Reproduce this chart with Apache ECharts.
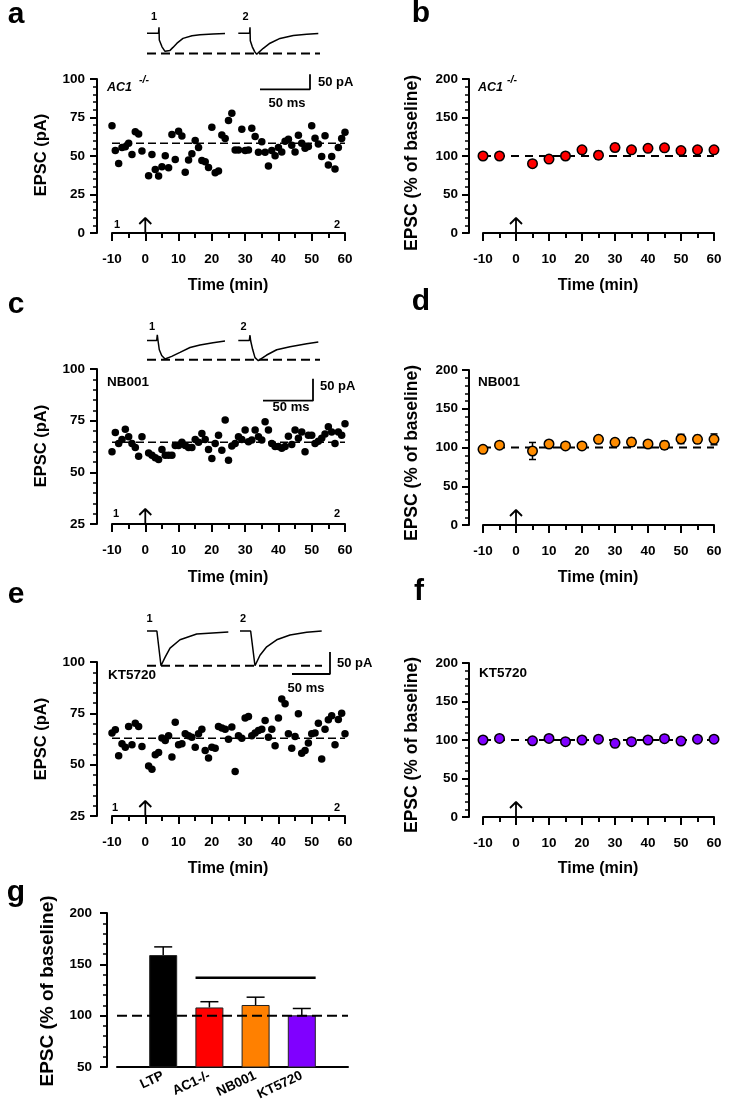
<!DOCTYPE html>
<html><head><meta charset="utf-8">
<script src="https://cdn.jsdelivr.net/npm/echarts@6/dist/echarts.min.js"></script>
<style>html,body{margin:0;padding:0;background:#fff}#c{width:733px;height:1112px}</style>
</head><body><div id="c"></div>
<script>
// ---------------- DATA ----------------
const minutes = [-10,-9,-8,-7,-6,-5,-4,-3,-2,-1,1,2,3,4,5,6,7,8,9,10,11,12,13,14,15,16,17,18,19,20,21,22,23,24,25,26,27,28,29,30,31,32,33,34,35,36,37,38,39,40,41,42,43,44,45,46,47,48,49,50,51,52,53,54,55,56,57,58,59,60];
const epscA = [69.7,53.5,45.2,55.6,56,58.2,51,65.8,64.3,53.2, 37.2,51,41.3,37,43,50.2,42.4,64,47.8,66, 63,39.4,47.4,51.5,60,55.6,47,46.3,42.6,68.6, 39.2,40.3,63.6,61.3,73,77.7,53.9,53.9,67.3,53.5, 53.9,68,62.6,52.4,59.3,52.4,43.5,53.5,50.2,55.6, 52.6,59.5,60.8,56.9,52.6,63.4,58.2,55,56.2,69.7, 61.5,57.8,49.6,63.2,44.2,49.6,41.6,55.6,61.3,65.4];
const epscC = [59.9,69.3,64,65.9,70.8,67.2,64,62,57.8,67.2, 59.4,58.3,57.1,56.2,61,58.3,58.3,58.3,63,63, 64.6,63,62,62,65.9,64.6,68.8,65.9,61,56.7, 64,68,60.7,75.3,55.8,62.7,64,67.2,65.9,70.5, 64.8,65.6,70.5,67.2,65.6,74.5,70.5,64,62.5,62.5, 61.7,62.5,67.5,63.5,70.5,66.5,69.5,60,68,68, 64,65,66.5,68.5,72,69.5,64,69.5,68,73.5];
const epscE = [65.4,67,54.3,60.2,58.5,68.6,59.7,70.2,68.6,58.9, 49.4,47.8,54.8,55.9,63,61.8,64.1,53.7,70.6,59.7, 60.2,65,64.1,63.4,58.5,65,67.3,56.9,53.2,58.5, 58,68.6,67.8,67.3,62.4,68.3,46.7,64.1,62.9,72.7, 73.5,64.1,65.4,66.7,67.3,71.5,63.4,67.3,59.2,72.7, 82,79.7,65,58,63.7,74.8,55.6,56.9,60.5,65, 65.4,70.2,52.7,67.3,71.9,73.8,59.7,72,75.1,65];
const baselineMean = [58.2, 64.6, 62.9];           // a, c, e
const stimTime = 0;

const normTime = [-10,-5,5,10,15,20,25,30,35,40,45,50,55,60];
const normB = [100,100,90,96,100,108,101,111,108,110,110.6,107,108,108];
const errB  = [2,2,4,3,3,4,5,5,3,4,4,3,3,3];
const normD = [97.6,103,95.5,104.5,102,102,110.5,106.7,107,104.5,103,111,110.5,110.5];
const errD  = [2,3,11,4,3,4,4,4,5,4,5,6,5,7];
const normF = [100,102,99,102,97.8,100,101,95.7,97.8,100,101.7,98.7,101,101];
const errF  = [2,2,3,3,3,3,3,4,4,3,3,3,2,2];
const normBaseline = 100;

const gCats  = ['LTP','AC1-/-','NB001','KT5720'];
const gMeans = [159,108,110.4,100.3];
const gErr   = [8,5.6,7.6,6.7];
const gSigLevel = 137;

// sample traces: [ms, pA]
const traceA1 = [[0,0],[11.5,0],[12,20],[12.3,-22],[15,-45],[18,-60],[20,-63],[23,-57],[26,-47],[30,-33],[36,-17],[45,-8],[53,-5],[66,-2],[78,-1]];
const traceA2 = [[0,0],[11.3,0],[11.7,20],[12,-25],[14,-45],[16.5,-62],[18.4,-70],[21,-62],[25,-50],[31.7,-33],[41.7,-17],[55,-7],[68.4,-3],[80,-1]];
const traceC1 = [[0,0],[9.7,0],[10.3,13],[11,0],[12.3,-21],[14.7,-34],[18,-42],[24.7,-36],[33,-27],[43,-16],[53,-10],[66,-5],[78,-1.4]];
const traceC2 = [[0,0],[11,0],[11.7,12],[12.3,0],[14.3,-20],[16.7,-39],[20,-46],[28.4,-33],[38.4,-21],[51.7,-14],[68.4,-7.5],[80,-3.4]];
const traceE1 = [[0,0],[13,0],[14,3],[15.5,0],[18.4,-79],[23.7,-60],[30.3,-39],[43.4,-20],[65.4,-7],[107,-2]];
const traceE2 = [[0,0],[11,0],[12.5,3],[14,0],[19.7,-79],[26.3,-55],[35.1,-36],[48.3,-20],[65.8,-9],[87.7,-3],[107.5,0]];
const tracePeakLevel = [-67, -44, -79];
const scaleBarMs = 50, scaleBarPa = 50;

// ---------------- LAYOUT ----------------
const FF = "'Liberation Sans', Arial, Helvetica, sans-serif";
const G = [
  {left:112, top:79,  width:233, height:154}, // a
  {left:483, top:79,  width:231, height:154}, // b
  {left:112, top:369, width:233, height:155}, // c
  {left:483, top:370, width:231, height:155}, // d
  {left:112, top:662, width:233, height:154}, // e
  {left:483, top:663, width:231, height:154}, // f
  {left:117, top:913, width:231, height:154}  // g
];
const insets = [
  {x0:147, y0:33.3,  pxMs:1,    pxPa:0.3,  gapPx:91.3, t1:traceA1, t2:traceA2, dashEndPx:320, corner:[310,89.3]},
  {x0:147, y0:340.5, pxMs:1,    pxPa:0.44, gapPx:91.3, t1:traceC1, t2:traceC2, dashEndPx:320, corner:[313,400.7]},
  {x0:147, y0:631,   pxMs:0.76, pxPa:0.44, gapPx:93,   t1:traceE1, t2:traceE2, dashEndPx:322, corner:[330,674]}
];

const grids = G.map(g => Object.assign({containLabel:false}, g));
const xAxes = [], yAxes = [], series = [];
const AL = {color:'#000', width:2};
const labelStyle = {color:'#000', fontSize:13.5, fontWeight:'bold', fontFamily:FF};

function timeX(gi){ return {type:'value', gridIndex:gi, min:-10, max:60, interval:10,
  axisLine:{show:true, onZero:false, lineStyle:AL},
  axisTick:{show:true, length:8, lineStyle:{color:'#000', width:2}},
  minorTick:{show:true, splitNumber:2, length:5, lineStyle:{color:'#000', width:2}},
  splitLine:{show:false}, minorSplitLine:{show:false},
  axisLabel:Object.assign({margin:19}, labelStyle)}; }
function valY(gi, min, max, interval, offset, margin){ return {type:'value', gridIndex:gi, min, max, interval, offset,
  axisLine:{show:true, onZero:false, lineStyle:AL},
  axisTick:{show:true, length:7, lineStyle:{color:'#000', width:2}},
  minorTick:{show:true, splitNumber:5, length:4, lineStyle:{color:'#000', width:1.5}},
  splitLine:{show:false}, minorSplitLine:{show:false},
  axisLabel:Object.assign({margin}, labelStyle)}; }

const rawSets = [[0, epscA, 0], [2, epscC, 25], [4, epscE, 25]];
const normSets = [[1, normB, errB, '#ff0000'], [3, normD, errD, '#ff8c00'], [5, normF, errF, '#8000ff']];

for (let gi = 0; gi < 6; gi++) {
  xAxes.push(timeX(gi));
  if (gi % 2 === 0) yAxes.push(valY(gi, gi === 0 ? 0 : 25, 100, 25, 15, 12));
  else yAxes.push(valY(gi, 0, 200, 50, 14, 11));
}
xAxes.push({type:'value', gridIndex:6, min:0, max:5, interval:1,
  axisLine:{show:true, onZero:false, lineStyle:AL}, axisTick:{show:false}, splitLine:{show:false},
  axisLabel:Object.assign({margin:8, rotate:25, formatter: v => gCats[v-1] || ''}, labelStyle)});
yAxes.push(valY(6, 50, 200, 50, 10, 15));

function arrowData(gi, yBase, ySpan){
  const ux = 70 / G[gi].width, uy = ySpan / G[gi].height;
  const top = yBase + 15*uy, wing = yBase + 9*uy;
  return [[stimTime,yBase],[stimTime,top],[stimTime-6*ux,wing],[stimTime,top],[stimTime+6*ux,wing]];
}
function errRender(cap, both){
  return function(params, api){
    const x = api.value(0), y = api.value(1), e = api.value(2);
    const top = api.coord([x, y + e]);
    const bot = api.coord([x, both ? y - e : y]);
    const st = {stroke:'#000', lineWidth:1.5};
    const ch = [
      {type:'line', shape:{x1:top[0], y1:top[1], x2:bot[0], y2:bot[1]}, style:st},
      {type:'line', shape:{x1:top[0]-cap, y1:top[1], x2:top[0]+cap, y2:top[1]}, style:st}
    ];
    if (both) ch.push({type:'line', shape:{x1:bot[0]-cap, y1:bot[1], x2:bot[0]+cap, y2:bot[1]}, style:st});
    return {type:'group', children:ch};
  };
}

rawSets.forEach(([gi, vals, ymin], k) => {
  series.push({type:'line', xAxisIndex:gi, yAxisIndex:gi, data:[[-10, baselineMean[k]],[60, baselineMean[k]]],
    symbol:'none', lineStyle:{color:'#000', width:1.5, type:[8,4]}, z:1, silent:true});
  series.push({type:'scatter', xAxisIndex:gi, yAxisIndex:gi, data:minutes.map((m,i)=>[m, vals[i]]),
    symbolSize:7.5, itemStyle:{color:'#000', opacity:1}, z:3, silent:true});
  series.push({type:'line', xAxisIndex:gi, yAxisIndex:gi, data:arrowData(gi, ymin, 100 - ymin),
    symbol:'none', lineStyle:{color:'#000', width:1.8}, z:4, silent:true, clip:false});
});
normSets.forEach(([gi, vals, errs, col]) => {
  series.push({type:'line', xAxisIndex:gi, yAxisIndex:gi, data:[[-10, normBaseline],[60, normBaseline]],
    symbol:'none', lineStyle:{color:'#000', width:2, type:[8,6]}, z:1, silent:true});
  series.push({type:'custom', xAxisIndex:gi, yAxisIndex:gi, data:normTime.map((t,i)=>[t, vals[i], errs[i]]),
    renderItem:errRender(3.5, true), encode:{x:0, y:1}, z:2, silent:true});
  series.push({type:'scatter', xAxisIndex:gi, yAxisIndex:gi, data:normTime.map((t,i)=>[t, vals[i]]),
    symbolSize:9.5, itemStyle:{color:col, borderColor:'#000', borderWidth:1.5, opacity:1}, z:3, silent:true});
  series.push({type:'line', xAxisIndex:gi, yAxisIndex:gi, data:arrowData(gi, 0, 200),
    symbol:'none', lineStyle:{color:'#000', width:1.8}, z:4, silent:true, clip:false});
});

const gColors = ['#000000','#ff0000','#ff8000','#8000ff'];
series.push({type:'bar', xAxisIndex:6, yAxisIndex:6, barWidth:28, z:2, silent:true,
  data:gMeans.map((v,i)=>({value:[i+1, v], itemStyle:{color:gColors[i], borderColor:'#222', borderWidth:1}}))});
series.push({type:'custom', xAxisIndex:6, yAxisIndex:6, data:gMeans.map((v,i)=>[i+1, v, gErr[i]]),
  renderItem:errRender(9, false), encode:{x:0, y:1}, z:3, silent:true});
series.push({type:'line', xAxisIndex:6, yAxisIndex:6, data:[[0, normBaseline],[5, normBaseline]],
  symbol:'none', lineStyle:{color:'#000', width:2, type:[10,5]}, z:4, silent:true});
series.push({type:'line', xAxisIndex:6, yAxisIndex:6, data:[[2-0.3, gSigLevel],[4+0.3, gSigLevel]],
  symbol:'none', lineStyle:{color:'#000', width:2.5}, z:4, silent:true});

insets.forEach((ins, k) => {
  const gi = grids.length;
  const W = 240, H = 100;
  grids.push({left:ins.x0, top:ins.y0 - 30, width:W, height:H});
  const yMax = 30 / ins.pxPa;
  xAxes.push({type:'value', gridIndex:gi, min:0, max:W/ins.pxMs, show:false});
  yAxes.push({type:'value', gridIndex:gi, min:yMax - H/ins.pxPa, max:yMax, show:false});
  const gapMs = ins.gapPx / ins.pxMs;
  const base = {type:'line', xAxisIndex:gi, yAxisIndex:gi, symbol:'none', silent:true, clip:false, z:5};
  series.push(Object.assign({}, base, {data:ins.t1, lineStyle:{color:'#000', width:1.5}}));
  series.push(Object.assign({}, base, {data:ins.t2.map(p=>[p[0]+gapMs, p[1]]), lineStyle:{color:'#000', width:1.5}}));
  series.push(Object.assign({}, base, {data:[[0, tracePeakLevel[k]],[(ins.dashEndPx-ins.x0)/ins.pxMs, tracePeakLevel[k]]],
    lineStyle:{color:'#000', width:2, type:[9,5]}}));
  const cMs = (ins.corner[0]-ins.x0)/ins.pxMs, cPa = -(ins.corner[1]-ins.y0)/ins.pxPa;
  series.push(Object.assign({}, base, {data:[[cMs-scaleBarMs, cPa],[cMs, cPa],[cMs, cPa+scaleBarPa]],
    lineStyle:{color:'#000', width:1.8}}));
});

function T(text, x, y, size, o){
  o = o || {};
  const al = o.align || 'center';
  return {type:'text', x, y, rotation:o.rot || 0, silent:true, z:100,
    style:{text, fill:'#000', font:(o.italic?'italic ':'')+'bold '+size+'px '+FF,
      align:al, textAlign:al, verticalAlign:'middle', textVerticalAlign:'middle'}};
}
const R = Math.PI/2;
const graphic = [
  T('a', 16, 15, 30), T('b', 421, 14, 30), T('c', 16, 305, 30), T('d', 421, 302, 30),
  T('e', 16, 595, 30), T('f', 419, 592, 30), T('g', 16, 893, 30),
  T('EPSC (pA)', 41, 155, 16.5, {rot:R}), T('EPSC (pA)', 41, 446, 16.5, {rot:R}), T('EPSC (pA)', 41, 739, 16.5, {rot:R}),
  T('EPSC (% of baseline)', 412, 163, 17.5, {rot:R}), T('EPSC (% of baseline)', 412, 453, 17.5, {rot:R}),
  T('EPSC (% of baseline)', 412, 745, 17.5, {rot:R}), T('EPSC (% of baseline)', 48, 991, 19, {rot:R}),
  T('Time (min)', 228, 286, 16), T('Time (min)', 598, 286, 16),
  T('Time (min)', 228, 578, 16), T('Time (min)', 598, 578, 16),
  T('Time (min)', 228, 869, 16), T('Time (min)', 598, 869, 16),
  T('AC1', 107, 88, 12.5, {italic:true, align:'left'}), T('-/-', 139, 80, 10.5, {italic:true, align:'left'}),
  T('AC1', 478, 88, 12.5, {italic:true, align:'left'}), T('-/-', 507, 80, 10.5, {italic:true, align:'left'}),
  T('NB001', 107, 382, 13.5, {align:'left'}), T('NB001', 478, 382, 13.5, {align:'left'}),
  T('KT5720', 108, 675, 13.5, {align:'left'}), T('KT5720', 479, 673, 13.5, {align:'left'}),
  T('1', 117, 225, 11), T('2', 337, 225, 11), T('1', 116, 514, 11), T('2', 337, 514, 11),
  T('1', 115, 808, 11), T('2', 337, 808, 11),
  T('1', 154, 16.5, 11), T('2', 245.5, 16.5, 11), T('1', 152, 326.5, 11), T('2', 243.5, 326.5, 11),
  T('1', 149.5, 618.5, 11), T('2', 243, 618.5, 11),
  T('50 pA', 318, 82, 13, {align:'left'}), T('50 ms', 287, 103, 13),
  T('50 pA', 320, 386, 13, {align:'left'}), T('50 ms', 291, 407, 13),
  T('50 pA', 337, 663, 13, {align:'left'}), T('50 ms', 306, 688, 13)
];

const chart = echarts.init(document.getElementById('c'), null, {renderer:'canvas', width:733, height:1112});
chart.setOption({animation:false, backgroundColor:'#fff', grid:grids, xAxis:xAxes, yAxis:yAxes, series, graphic});
</script>
</body></html>
